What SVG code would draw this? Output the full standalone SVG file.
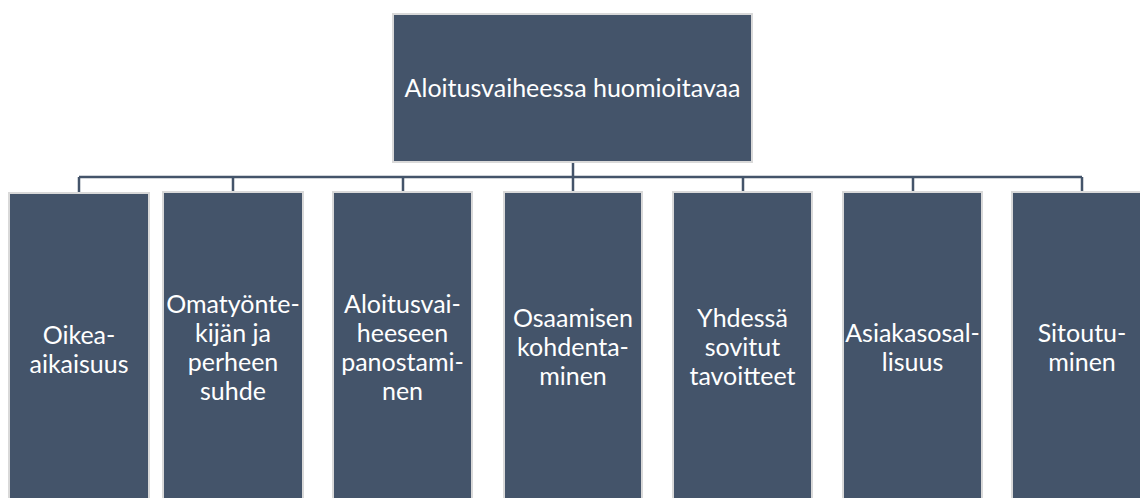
<svg xmlns="http://www.w3.org/2000/svg" width="1140" height="498" viewBox="0 0 1140 498">
<style>
.box{fill:#44546a;stroke:#d9d9d9;stroke-width:2}
.lbl{font-family:Lato,"Open Sans","Liberation Sans",sans-serif;font-size:25px;fill:#ffffff;text-anchor:middle}
.con{stroke:#44546a;stroke-width:2.5;fill:none}
</style>
<rect width="1140" height="498" fill="#ffffff"/>
<g id="connectors">
<path class="con" d="M573 162V192"/>
<path class="con" d="M79 177H1082"/>
<path class="con" d="M79 177V192M233 177V192M403 177V192M743 177V192M913 177V192M1082 177V192"/>
</g>
<g id="root">
<rect class="box" x="393" y="14" width="359" height="148"/>
<text class="lbl" x="572.5" y="97">Aloitusvaiheessa huomioitavaa</text>
</g>
<g id="n1">
<rect class="box" x="9" y="193" width="140" height="310"/>
<text class="lbl" x="79" y="344">Oikea-</text>
<text class="lbl" x="79" y="373">aikaisuus</text>
</g>
<g id="n2">
<rect class="box" x="163" y="192" width="140" height="310"/>
<text class="lbl" x="233" y="313">Omatyönte-</text>
<text class="lbl" x="233" y="342">kijän ja</text>
<text class="lbl" x="233" y="371">perheen</text>
<text class="lbl" x="233" y="400">suhde</text>
</g>
<g id="n3">
<rect class="box" x="333" y="192" width="139" height="310"/>
<text class="lbl" x="402.5" y="313">Aloitusvai-</text>
<text class="lbl" x="402.5" y="342">heeseen</text>
<text class="lbl" x="402.5" y="371">panostami-</text>
<text class="lbl" x="402.5" y="400">nen</text>
</g>
<g id="n4">
<rect class="box" x="504" y="192" width="138" height="310"/>
<text class="lbl" x="573" y="327">Osaamisen</text>
<text class="lbl" x="573" y="356">kohdenta-</text>
<text class="lbl" x="573" y="385">minen</text>
</g>
<g id="n5">
<rect class="box" x="673" y="192" width="139" height="310"/>
<text class="lbl" x="742.5" y="327">Yhdessä</text>
<text class="lbl" x="742.5" y="356">sovitut</text>
<text class="lbl" x="742.5" y="385">tavoitteet</text>
</g>
<g id="n6">
<rect class="box" x="843" y="192" width="139" height="310"/>
<text class="lbl" x="912.5" y="342">Asiakasosal-</text>
<text class="lbl" x="912.5" y="371">lisuus</text>
</g>
<g id="n7">
<rect class="box" x="1012" y="192" width="140" height="310"/>
<text class="lbl" x="1082" y="342">Sitoutu-</text>
<text class="lbl" x="1082" y="371">minen</text>
</g>
</svg>
